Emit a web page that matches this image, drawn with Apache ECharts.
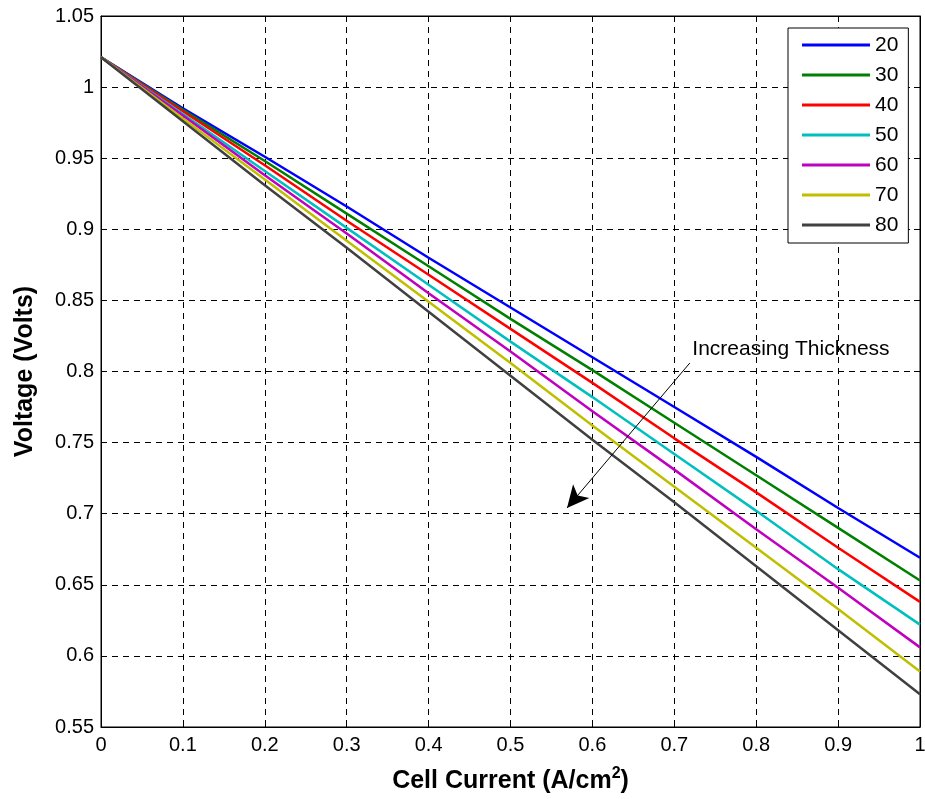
<!DOCTYPE html>
<html>
<head>
<meta charset="utf-8">
<script src="https://cdn.jsdelivr.net/npm/echarts@6/dist/echarts.min.js"></script>
<style>
  html, body { margin: 0; padding: 0; background: #fff; }
  #chart { width: 925px; height: 799px; }
</style>
</head>
<body>
<div id="chart"></div>
<script>
// cell current (A/cm^2)
const current = [0, 0.1, 0.2, 0.3, 0.4, 0.5, 0.6, 0.7, 0.8, 0.9, 1.0]

// voltage per membrane thickness
const thickness = ['20', '30', '40', '50', '60', '70', '80']
const v20 = [1.021, 0.985, 0.951, 0.916, 0.880, 0.845, 0.810, 0.775, 0.740, 0.704, 0.669]
const v30 = [1.021, 0.984, 0.948, 0.911, 0.874, 0.837, 0.801, 0.764, 0.727, 0.690, 0.653]
const v40 = [1.021, 0.983, 0.945, 0.906, 0.868, 0.830, 0.792, 0.753, 0.715, 0.676, 0.638]
const v50 = [1.021, 0.981, 0.941, 0.901, 0.861, 0.821, 0.782, 0.742, 0.702, 0.661, 0.622]
const v60 = [1.021, 0.980, 0.938, 0.897, 0.855, 0.814, 0.772, 0.731, 0.689, 0.648, 0.606]
const v70 = [1.021, 0.978, 0.935, 0.892, 0.849, 0.806, 0.762, 0.719, 0.676, 0.633, 0.589]
const v80 = [1.021, 0.976, 0.931, 0.887, 0.842, 0.797, 0.752, 0.708, 0.663, 0.618, 0.573]
const voltages = [v20, v30, v40, v50, v60, v70, v80]
const colors = ['#0000ff', '#008000', '#ff0000', '#00bfbf', '#bf00bf', '#bfbf00', '#404040']

// annotation arrow (data coords)
const arrowFrom = [0.719, 0.806]
const arrowTo = [0.569, 0.704]
const noteAt = [0.722, 0.816]

const font = 'Arial, "Liberation Sans", sans-serif'
const chart = echarts.init(document.getElementById('chart'))

const series = thickness.map((name, i) => ({
    name,
    type: 'line',
    data: current.map((x, j) => [x, voltages[i][j]]),
    showSymbol: false,
    symbol: 'none',
    lineStyle: { width: 2.5, color: colors[i] },
    itemStyle: { color: colors[i] },
    animation: false,
    z: 3,
}))

// arrow + text annotation
series.push({
    type: 'line',
    data: [],
    silent: true,
    animation: false,
    markLine: {
        silent: true,
        animation: false,
        symbol: ['none', 'arrow'],
        symbolSize: [16, 22],
        lineStyle: { color: '#000', width: 1, type: 'solid' },
        label: { show: false },
        data: [[{ coord: arrowFrom }, { coord: arrowTo }]],
    },
    markPoint: {
        silent: true,
        animation: false,
        symbol: 'circle',
        symbolSize: 0,
        label: {
            show: true,
            position: [0, 0],
            align: 'left',
            verticalAlign: 'middle',
            formatter: 'Increasing Thickness',
            color: '#000',
            fontFamily: font,
            fontSize: 21,
        },
        data: [{ coord: noteAt }],
    },
})

const grid = {
    left: 101, right: 5, top: 16, bottom: 72,
    outerBoundsMode: 'none', containLabel: false,
    show: true, borderColor: '#000', borderWidth: 1,
}

chart.setOption({
    backgroundColor: '#fff',
    animation: false,
    grid,
    legend: {
        data: thickness,
        orient: 'vertical',
        left: 788,
        top: 28,
        backgroundColor: '#fff',
        borderColor: '#000',
        borderWidth: 1,
        borderRadius: 0,
        padding: [6, 10, 7, 14],
        itemGap: 8,
        itemWidth: 68,
        itemHeight: 3,
        itemTextGap: 8,
        icon: 'rect',
        textStyle: { fontFamily: font, fontSize: 21, color: '#000', lineHeight: 22 },
    },
    xAxis: [{
        type: 'value',
        min: 0,
        max: 1,
        interval: 0.1,
        name: 'Cell Current (A/cm{sup|2})',
        nameLocation: 'middle',
        nameGap: 39,
        nameTextStyle: {
            fontFamily: font, fontSize: 25, fontWeight: 'bold', color: '#000',
            rich: { sup: { fontFamily: font, fontSize: 16, fontWeight: 'bold', color: '#000', verticalAlign: 'top', padding: [0, 0, 14, 0] } },
        },
        axisLine: { show: true, onZero: false, lineStyle: { color: '#000', width: 1 } },
        axisTick: { show: true, inside: true, length: 6, lineStyle: { color: '#000' } },
        axisLabel: { fontFamily: font, fontSize: 20, color: '#000', margin: 8, formatter: v => String(+v.toFixed(2)) },
        splitLine: { show: true, lineStyle: { color: '#000', width: 1, type: [6, 5] } },
    }, {
        type: 'value',
        position: 'top',
        min: 0,
        max: 1,
        interval: 0.1,
        axisLine: { show: true, onZero: false, lineStyle: { color: '#000', width: 1 } },
        axisTick: { show: true, inside: true, length: 6, lineStyle: { color: '#000' } },
        axisLabel: { show: false },
        splitLine: { show: false },
    }],
    yAxis: [{
        type: 'value',
        min: 0.55,
        max: 1.05,
        interval: 0.05,
        name: 'Voltage (Volts)',
        nameLocation: 'middle',
        nameGap: 63,
        nameTextStyle: { fontFamily: font, fontSize: 25, fontWeight: 'bold', color: '#000' },
        axisLine: { show: true, onZero: false, lineStyle: { color: '#000', width: 1 } },
        axisTick: { show: true, inside: true, length: 6, lineStyle: { color: '#000' } },
        axisLabel: { fontFamily: font, fontSize: 20, color: '#000', margin: 7, formatter: v => String(+v.toFixed(2)) },
        splitLine: { show: true, lineStyle: { color: '#000', width: 1, type: [6, 5] } },
    }, {
        type: 'value',
        position: 'right',
        min: 0.55,
        max: 1.05,
        interval: 0.05,
        axisLine: { show: true, onZero: false, lineStyle: { color: '#000', width: 1 } },
        axisTick: { show: true, inside: true, length: 6, lineStyle: { color: '#000' } },
        axisLabel: { show: false },
        splitLine: { show: false },
    }],
    series,
})
</script>
</body>
</html>
